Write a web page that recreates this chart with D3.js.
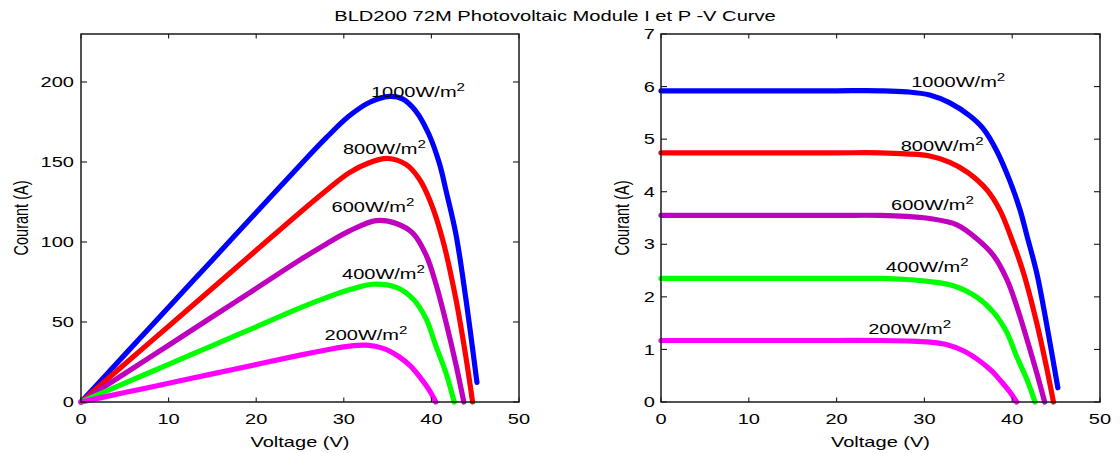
<!DOCTYPE html>
<html><head><meta charset="utf-8">
<script src="https://cdn.jsdelivr.net/npm/d3@7"></script>
<style>
html,body{margin:0;padding:0;background:#fff;}
svg{display:block;}
text{font-family:"Liberation Sans",Arial,Helvetica,sans-serif;fill:#000;}
</style></head>
<body>
<svg id="chart" width="1120" height="453"></svg>
<script>
// ---- data ----
const title = "BLD200 72M Photovoltaic Module I et P -V  Curve";
const xLabel = "Voltage (V)";
const yLabel = "Courant (A)";
const xTicks = [0, 10, 20, 30, 40, 50];
const yTicksLeft = [0, 50, 100, 150, 200];
const yTicksRight = [0, 1, 2, 3, 4, 5, 6, 7];
const seriesNames = ["1000W/m", "800W/m", "600W/m", "400W/m", "200W/m"];
const seriesColors = ["#0000ff", "#ff0000", "#bf00bf", "#00ff00", "#ff00ff"];

const v1000 = [0, 5, 10, 15, 20, 25, 28, 30.6, 32.9, 35.2, 36.7, 38.2, 39.7, 40.9, 41.7, 42.8, 43.9, 45.2];
const i1000 = [5.92, 5.92, 5.92, 5.92, 5.92, 5.92, 5.9, 5.84, 5.69, 5.44, 5.2, 4.79, 4.22, 3.65, 3.15, 2.45, 1.5, 0.27];
const p1000 = [0, 29.6, 59.2, 88.8, 118.4, 148, 165.2, 178.7, 187.2, 191.0, 189.5, 182, 167.5, 149.3, 131.4, 104.9, 65.9, 12.2];

const v800 = [0, 5, 10, 15, 20, 25, 28, 30.6, 32.9, 35.0, 37.1, 38.6, 39.9, 41.3, 42.8, 43.9, 44.7];
const i800 = [4.74, 4.74, 4.74, 4.74, 4.74, 4.74, 4.72, 4.68, 4.56, 4.36, 4.04, 3.65, 3.12, 2.45, 1.5, 0.67, 0];
const p800 = [0, 23.7, 47.4, 71.1, 94.8, 118.5, 132.2, 143.2, 149.5, 152.2, 148.5, 139.5, 125, 101.2, 64.2, 29.4, 0];

const v600 = [0, 5, 10, 15, 20, 25, 28, 30.6, 33.7, 36.0, 37.9, 39.4, 40.5, 41.7, 42.8, 43.7];
const i600 = [3.55, 3.55, 3.55, 3.55, 3.55, 3.55, 3.53, 3.49, 3.37, 3.10, 2.78, 2.33, 1.83, 1.18, 0.55, 0];
const p600 = [0, 17.8, 35.5, 53.3, 71, 88.8, 98.8, 106.8, 113.4, 111.6, 105.4, 91.8, 74.1, 49.2, 23.5, 0];

const v400 = [0, 5, 10, 15, 20, 25, 28, 30.6, 33.3, 36.0, 37.9, 39.4, 40.5, 41.7, 42.6];
const i400 = [2.35, 2.35, 2.35, 2.35, 2.35, 2.35, 2.33, 2.29, 2.21, 1.99, 1.70, 1.32, 0.87, 0.42, 0];
const p400 = [0, 11.8, 23.5, 35.3, 47, 58.8, 65.2, 70.1, 73.6, 71.6, 64.4, 52, 35.2, 17.5, 0];

const v200 = [0, 5, 10, 15, 20, 25, 28, 30.6, 32.6, 34.5, 36.3, 37.6, 38.6, 39.7, 40.5];
const i200 = [1.17, 1.17, 1.17, 1.17, 1.17, 1.17, 1.16, 1.14, 1.09, 0.97, 0.78, 0.6, 0.42, 0.2, 0];
const p200 = [0, 5.9, 11.7, 17.6, 23.4, 29.3, 32.5, 34.9, 35.5, 33.5, 28.3, 22.6, 16.2, 7.9, 0];

const voltages = [v1000, v800, v600, v400, v200];
const currents = [i1000, i800, i600, i400, i200];
const powers = [p1000, p800, p600, p400, p200];

// label anchor points in data units (voltage, value)
const labelPosLeft = [[33.1, 190.5], [29.9, 155], [28.6, 119], [29.8, 77], [27.8, 38.5]];
const labelPosRight = [[28.5, 6.0], [27.3, 4.78], [26.2, 3.66], [25.6, 2.48], [23.6, 1.3]];

// ---- drawing ----
const svg = d3.select("#chart");
const SX = 1.38;      // horizontal stretch of the original raster
const FS = 14.5;

function stretchedText(g, x, y, str, anchor, size, rotate) {
  return g.append("text")
    .attr("transform", `translate(${x},${y}) scale(${SX},1)` + (rotate ? " rotate(-90)" : ""))
    .attr("text-anchor", anchor)
    .attr("font-size", size)
    .text(str);
}

svg.append("g").call(g => stretchedText(g, 555, 21, title, "middle", 14.6, false));

function panel(x0, x1, yDomain, yTicks, data, labelPos, ylabX, ytickEnd) {
  const top = 34, bottom = 402;
  const xs = d3.scaleLinear().domain([0, 50]).range([x0, x1]);
  const ys = d3.scaleLinear().domain(yDomain).range([bottom, top]);
  const g = svg.append("g");

  const line = d3.line().x(d => xs(d[0])).y(d => ys(d[1])).curve(d3.curveCatmullRom.alpha(0.5));
  data.forEach((pts, k) => {
    g.append("path").attr("d", line(pts))
      .attr("fill", "none").attr("stroke", seriesColors[k])
      .attr("stroke-width", 5.2).attr("stroke-linejoin", "round").attr("stroke-linecap", "round");
  });

  g.append("rect").attr("x", x0).attr("y", top).attr("width", x1 - x0).attr("height", bottom - top)
    .attr("fill", "none").attr("stroke", "#1a1a1a").attr("stroke-width", 1.5);

  const tk = g.append("g").attr("stroke", "#1a1a1a").attr("stroke-width", 1.1);
  xTicks.forEach(t => {
    tk.append("line").attr("x1", xs(t)).attr("x2", xs(t)).attr("y1", bottom).attr("y2", bottom - 4.5);
    tk.append("line").attr("x1", xs(t)).attr("x2", xs(t)).attr("y1", top).attr("y2", top + 4.5);
    stretchedText(g, xs(t), 424, String(t), "middle", FS, false);
  });
  yTicks.forEach(t => {
    tk.append("line").attr("x1", x0).attr("x2", x0 + 6).attr("y1", ys(t)).attr("y2", ys(t));
    tk.append("line").attr("x1", x1).attr("x2", x1 - 6).attr("y1", ys(t)).attr("y2", ys(t));
    stretchedText(g, ytickEnd, ys(t) + 5.2, String(t), "end", FS, false);
  });

  stretchedText(g, (x0 + x1) / 2, 447, xLabel, "middle", FS, false);
  stretchedText(g, ylabX, (top + bottom) / 2, yLabel, "middle", FS, true);

  labelPos.forEach((p, k) => {
    const t = stretchedText(g, xs(p[0]), ys(p[1]), "", "start", FS, false);
    t.append("tspan").text(seriesNames[k]);
    t.append("tspan").attr("dy", -6).attr("font-size", 11).text("2");
  });
}

const leftData = voltages.map((v, k) => v.map((x, j) => [x, powers[k][j]]));
const rightData = voltages.map((v, k) => v.map((x, j) => [x, currents[k][j]]));

panel(81, 519, [0, 230], yTicksLeft, leftData, labelPosLeft, 28, 74);
panel(661, 1100, [0, 7], yTicksRight, rightData, labelPosRight, 629, 655);
</script>
</body></html>
